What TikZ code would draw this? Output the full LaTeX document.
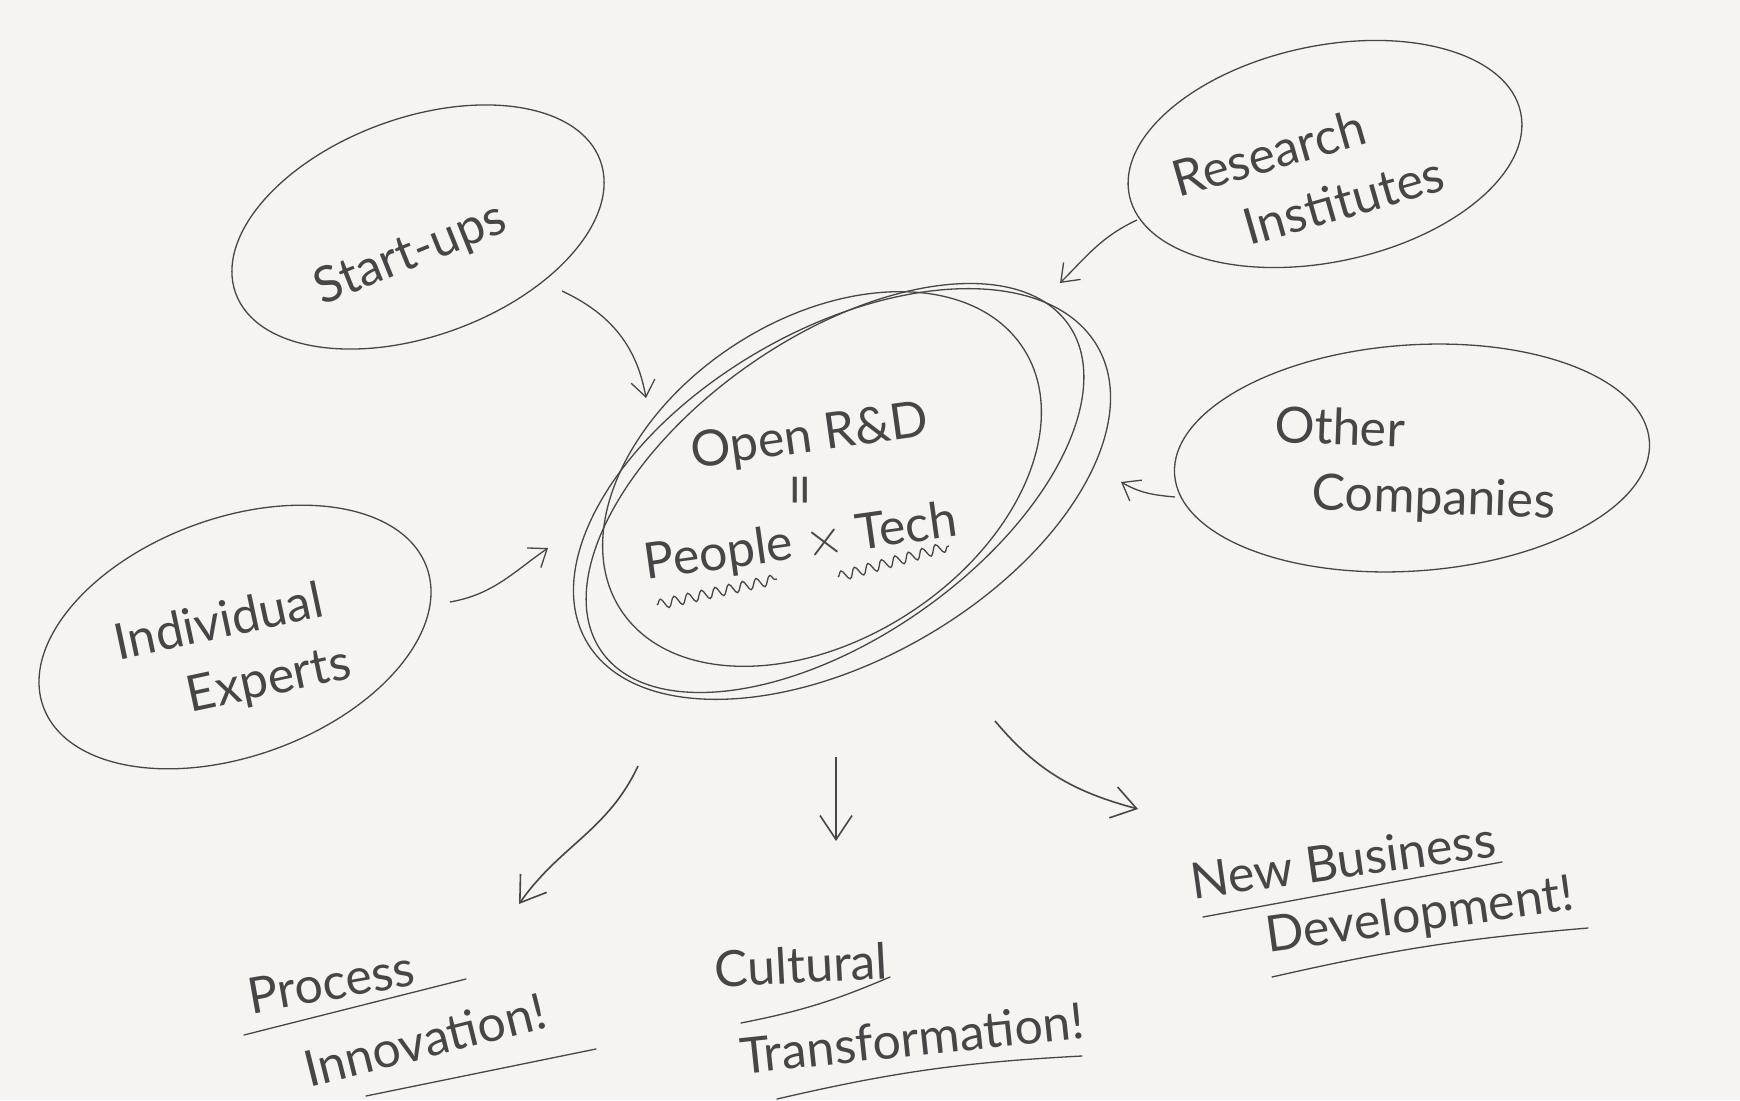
\documentclass[tikz,border=0pt]{standalone}
\usepackage{fontspec}
\setmainfont{Lato}
\usetikzlibrary{shapes.geometric,arrows.meta,decorations.pathmorphing}
\definecolor{ink}{RGB}{70,70,70}
\definecolor{paper}{RGB}{245,244,240}
\begin{document}
\begin{tikzpicture}[x=0.5pt,y=0.5pt,
  blob/.style={ellipse,draw=ink,line width=0.65pt,inner sep=0pt},
  lbl/.style={text=ink,font=\fontsize{25}{33}\selectfont,inner sep=0pt},
  arr/.style={draw=ink,line width=0.65pt,-{Straight Barb[length=8pt,width=12pt]}},
  bigarr/.style={draw=ink,line width=0.8pt,-{Straight Barb[length=12pt,width=16pt]}},
  uline/.style={draw=ink,line width=0.65pt,line cap=round},
  wavy/.style={draw=ink,line width=0.65pt,decorate,decoration={snake,amplitude=2.5pt,segment length=7pt}}]
\fill[paper] (0,0) rectangle (1740,1100);
\useasboundingbox (0,0) rectangle (1740,1100);

% satellites
\node[blob,minimum width=194pt,minimum height=109pt,rotate=20] (startups) at (418,873) {};
\node[lbl,rotate=22] (startupsT) at (411,845) {Start-ups};

\node[blob,minimum width=200pt,minimum height=108pt,rotate=12] (research) at (1325,946) {};
\node[lbl,rotate=16,align=left] (researchT) at (1308,924) {Research\\\hspace*{1.1em}Institutes};

\node[blob,minimum width=238pt,minimum height=113pt,rotate=4] (other) at (1412,642) {};
\node[lbl,rotate=-2,align=left] (otherT) at (1415,634) {Other\\\hspace*{0.8em}Companies};

\node[blob,minimum width=204pt,minimum height=119pt,rotate=20] (indiv) at (235,463) {};
\node[lbl,rotate=12,align=left] (indivT) at (233,445) {Individual\\\hspace*{1.2em}Experts};

% core
\node[blob,minimum width=240pt,minimum height=160pt,rotate=33] (core1) at (822,621) {};
\node[blob,minimum width=285pt,minimum height=150pt,rotate=35] (core2) at (835,612) {};
\node[blob,minimum width=295pt,minimum height=165pt,rotate=30] (core3) at (842,606) {};
\node[lbl,rotate=8] (openrd) at (810,662) {Open R\&D};
\node[lbl,rotate=90,font=\fontsize{30}{30}\selectfont] (eq) at (807,610) {=};
\node[lbl,rotate=8] (pt) at (801,556) {People $\times$ Tech};
\coordinate (w1a) at (657,495); \coordinate (w1b) at (777,521);
\coordinate (w2a) at (838,523); \coordinate (w2b) at (949,554);
\draw[wavy] (w1a) -- (w1b);
\draw[wavy] (w2a) -- (w2b);

% incoming arrows
\coordinate (a1s) at (562,809); \coordinate (a1e) at (646,702);
\draw[arr] (a1s) to[out=-25,in=100] (a1e);
\coordinate (a2s) at (1137,880); \coordinate (a2e) at (1060,817);
\draw[arr] (a2s) to[out=205,in=45] (a2e);
\coordinate (a3s) at (1175,603); \coordinate (a3e) at (1121,618);
\draw[arr] (a3s) to[out=175,in=-30] (a3e);
\coordinate (a4s) at (450,498); \coordinate (a4e) at (548,552);
\draw[arr] (a4s) to[out=10,in=215] (a4e);

% outgoing arrows
\coordinate (a5s) at (638,334); \coordinate (a5e) at (519,196);
\draw[bigarr] (a5s) to[out=245,in=55] (a5e);
\coordinate (a6s) at (836,343); \coordinate (a6e) at (836,259);
\draw[bigarr] (a6s) -- (a6e);
\coordinate (a7s) at (995,379); \coordinate (a7e) at (1138,291);
\draw[bigarr] (a7s) to[out=-50,in=165] (a7e);

% outcomes
\node[lbl,rotate=10] (process) at (331,118) {Process};
\coordinate (u1a) at (244,65); \coordinate (u1b) at (466,121);
\draw[uline] (u1a) -- (u1b);
\node[lbl,rotate=14] (innov) at (425,60) {Innovation!};
\coordinate (u2a) at (366,4); \coordinate (u2b) at (596,51);
\draw[uline] (u2a) -- (u2b);

\node[lbl,rotate=3] (cultural) at (801,135) {Cultural};
\coordinate (u3a) at (741,77); \coordinate (u3b) at (890,123);
\draw[uline] (u3a) to[bend right=6] (u3b);
\node[lbl,rotate=6] (transf) at (912,62) {Transformation!};
\coordinate (u4a) at (777,1); \coordinate (u4b) at (1082,44);
\draw[uline] (u4a) to[bend left=5] (u4b);

\node[lbl,rotate=8] (newbiz) at (1343,240) {New Business};
\coordinate (u5a) at (1203,183); \coordinate (u5b) at (1502,238);
\draw[uline] (u5a) -- (u5b);
\node[lbl,rotate=8] (devel) at (1420,183) {Development!};
\coordinate (u6a) at (1272,123); \coordinate (u6b) at (1588,172);
\draw[uline] (u6a) to[bend left=4] (u6b);
\end{tikzpicture}
\end{document}
